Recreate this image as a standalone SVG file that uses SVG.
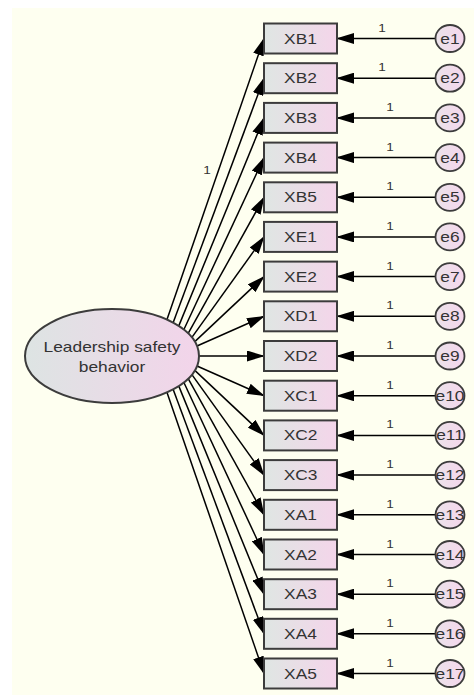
<svg xmlns="http://www.w3.org/2000/svg" width="474" height="695" viewBox="0 0 474 695">
  <defs>
    <linearGradient id="boxFill" x1="0" y1="0" x2="1" y2="0">
      <stop offset="0" stop-color="#dfe6e3"/>
      <stop offset="1" stop-color="#f4d5ea"/>
    </linearGradient>
    <linearGradient id="latentFill" x1="0" y1="0" x2="1" y2="0">
      <stop offset="0" stop-color="#dde4e3"/>
      <stop offset="1" stop-color="#f3d4ea"/>
    </linearGradient>
    <linearGradient id="errFill" x1="0" y1="0" x2="1" y2="0">
      <stop offset="0" stop-color="#ebe3ea"/>
      <stop offset="1" stop-color="#f5d6ec"/>
    </linearGradient>
    <marker id="head" markerUnits="userSpaceOnUse" markerWidth="18" markerHeight="11" refX="17" refY="5.5" orient="auto">
      <path d="M0,0 L18,5.5 L0,11 z" fill="#000"/>
    </marker>
  </defs>
  <style>
    .obs rect { fill: url(#boxFill); stroke: #3c3c3c; stroke-width: 2; }
    .err ellipse { fill: url(#errFill); stroke: #3c3c3c; stroke-width: 1.8; }
    .lbl { font-family: "Liberation Sans", Arial, sans-serif; font-size: 14px; fill: #333; text-anchor: middle; }
    .w { font-family: "Liberation Sans", Arial, sans-serif; font-size: 11px; fill: #333; text-anchor: middle; }
    .path { stroke: #000; stroke-width: 1.5; fill: none; marker-end: url(#head); }
  </style>

  <!-- canvas -->
  <rect x="0" y="0" width="474" height="695" fill="#ffffff"/>
  <rect x="12" y="8" width="462" height="687" fill="#fefff0"/>

  <!-- connectors: factor loadings and error paths -->
  <g id="connectors">
    <line class="path" x1="167.0" y1="319.6" x2="264" y2="38.5"/>
    <line class="path" x1="173.2" y1="322.6" x2="264" y2="78.2"/>
    <line class="path" x1="178.8" y1="325.9" x2="264" y2="117.9"/>
    <line class="path" x1="183.9" y1="329.5" x2="264" y2="157.6"/>
    <line class="path" x1="188.2" y1="333.4" x2="264" y2="197.3"/>
    <line class="path" x1="191.9" y1="337.4" x2="264" y2="236.9"/>
    <line class="path" x1="194.8" y1="341.6" x2="264" y2="276.6"/>
    <line class="path" x1="197.0" y1="346.0" x2="264" y2="316.3"/>
    <line class="path" x1="199.0" y1="356.0" x2="264" y2="356.0"/>
    <line class="path" x1="197.0" y1="366.0" x2="264" y2="395.7"/>
    <line class="path" x1="194.8" y1="370.4" x2="264" y2="435.4"/>
    <line class="path" x1="191.9" y1="374.6" x2="264" y2="475.1"/>
    <line class="path" x1="188.2" y1="378.6" x2="264" y2="514.8"/>
    <line class="path" x1="183.9" y1="382.5" x2="264" y2="554.5"/>
    <line class="path" x1="178.8" y1="386.1" x2="264" y2="594.2"/>
    <line class="path" x1="173.2" y1="389.4" x2="264" y2="633.8"/>
    <line class="path" x1="167.0" y1="392.4" x2="264" y2="673.5"/>

    <line class="path" x1="435.5" y1="38.5" x2="337" y2="38.5"/>
    <line class="path" x1="435.5" y1="78.2" x2="337" y2="78.2"/>
    <line class="path" x1="435.5" y1="117.9" x2="337" y2="117.9"/>
    <line class="path" x1="435.5" y1="157.6" x2="337" y2="157.6"/>
    <line class="path" x1="435.5" y1="197.3" x2="337" y2="197.3"/>
    <line class="path" x1="435.5" y1="236.9" x2="337" y2="236.9"/>
    <line class="path" x1="435.5" y1="276.6" x2="337" y2="276.6"/>
    <line class="path" x1="435.5" y1="316.3" x2="337" y2="316.3"/>
    <line class="path" x1="435.5" y1="356.0" x2="337" y2="356.0"/>
    <line class="path" x1="435.5" y1="395.7" x2="337" y2="395.7"/>
    <line class="path" x1="435.5" y1="435.4" x2="337" y2="435.4"/>
    <line class="path" x1="435.5" y1="475.1" x2="337" y2="475.1"/>
    <line class="path" x1="435.5" y1="514.8" x2="337" y2="514.8"/>
    <line class="path" x1="435.5" y1="554.5" x2="337" y2="554.5"/>
    <line class="path" x1="435.5" y1="594.2" x2="337" y2="594.2"/>
    <line class="path" x1="435.5" y1="633.8" x2="337" y2="633.8"/>
    <line class="path" x1="435.5" y1="673.5" x2="337" y2="673.5"/>

    <!-- fixed weights -->
    <text class="w" transform="matrix(1.24 0 0 1 207 174)">1</text>
    <text class="w" transform="matrix(1.24 0 0 1 382 31.5)">1</text>
    <text class="w" transform="matrix(1.24 0 0 1 382 71.2)">1</text>
    <text class="w" transform="matrix(1.24 0 0 1 390 110.9)">1</text>
    <text class="w" transform="matrix(1.24 0 0 1 390 150.6)">1</text>
    <text class="w" transform="matrix(1.24 0 0 1 390 190.3)">1</text>
    <text class="w" transform="matrix(1.24 0 0 1 390 229.9)">1</text>
    <text class="w" transform="matrix(1.24 0 0 1 390 269.6)">1</text>
    <text class="w" transform="matrix(1.24 0 0 1 390 309.3)">1</text>
    <text class="w" transform="matrix(1.24 0 0 1 390 349.0)">1</text>
    <text class="w" transform="matrix(1.24 0 0 1 390 388.7)">1</text>
    <text class="w" transform="matrix(1.24 0 0 1 390 428.4)">1</text>
    <text class="w" transform="matrix(1.24 0 0 1 390 468.1)">1</text>
    <text class="w" transform="matrix(1.24 0 0 1 390 507.8)">1</text>
    <text class="w" transform="matrix(1.24 0 0 1 390 547.5)">1</text>
    <text class="w" transform="matrix(1.24 0 0 1 390 587.2)">1</text>
    <text class="w" transform="matrix(1.24 0 0 1 390 626.8)">1</text>
    <text class="w" transform="matrix(1.24 0 0 1 390 666.5)">1</text>
  </g>

  <!-- latent factor -->
  <g id="leadership">
    <ellipse cx="112" cy="356" rx="87" ry="47" fill="url(#latentFill)" stroke="#3c3c3c" stroke-width="2"/>
    <text class="lbl" transform="matrix(1.24 0 0 1 112 352)">Leadership safety</text>
    <text class="lbl" transform="matrix(1.24 0 0 1 112 372)">behavior</text>
  </g>

  <!-- observed indicators -->
  <g id="XB1" class="obs"><rect x="264" y="23.5" width="73" height="30"/><text class="lbl" transform="matrix(1.24 0 0 1 300.5 43.5)">XB1</text></g>
  <g id="XB2" class="obs"><rect x="264" y="63.2" width="73" height="30"/><text class="lbl" transform="matrix(1.24 0 0 1 300.5 83.2)">XB2</text></g>
  <g id="XB3" class="obs"><rect x="264" y="102.9" width="73" height="30"/><text class="lbl" transform="matrix(1.24 0 0 1 300.5 122.9)">XB3</text></g>
  <g id="XB4" class="obs"><rect x="264" y="142.6" width="73" height="30"/><text class="lbl" transform="matrix(1.24 0 0 1 300.5 162.6)">XB4</text></g>
  <g id="XB5" class="obs"><rect x="264" y="182.3" width="73" height="30"/><text class="lbl" transform="matrix(1.24 0 0 1 300.5 202.3)">XB5</text></g>
  <g id="XE1" class="obs"><rect x="264" y="221.9" width="73" height="30"/><text class="lbl" transform="matrix(1.24 0 0 1 300.5 241.9)">XE1</text></g>
  <g id="XE2" class="obs"><rect x="264" y="261.6" width="73" height="30"/><text class="lbl" transform="matrix(1.24 0 0 1 300.5 281.6)">XE2</text></g>
  <g id="XD1" class="obs"><rect x="264" y="301.3" width="73" height="30"/><text class="lbl" transform="matrix(1.24 0 0 1 300.5 321.3)">XD1</text></g>
  <g id="XD2" class="obs"><rect x="264" y="341.0" width="73" height="30"/><text class="lbl" transform="matrix(1.24 0 0 1 300.5 361.0)">XD2</text></g>
  <g id="XC1" class="obs"><rect x="264" y="380.7" width="73" height="30"/><text class="lbl" transform="matrix(1.24 0 0 1 300.5 400.7)">XC1</text></g>
  <g id="XC2" class="obs"><rect x="264" y="420.4" width="73" height="30"/><text class="lbl" transform="matrix(1.24 0 0 1 300.5 440.4)">XC2</text></g>
  <g id="XC3" class="obs"><rect x="264" y="460.1" width="73" height="30"/><text class="lbl" transform="matrix(1.24 0 0 1 300.5 480.1)">XC3</text></g>
  <g id="XA1" class="obs"><rect x="264" y="499.8" width="73" height="30"/><text class="lbl" transform="matrix(1.24 0 0 1 300.5 519.8)">XA1</text></g>
  <g id="XA2" class="obs"><rect x="264" y="539.5" width="73" height="30"/><text class="lbl" transform="matrix(1.24 0 0 1 300.5 559.5)">XA2</text></g>
  <g id="XA3" class="obs"><rect x="264" y="579.2" width="73" height="30"/><text class="lbl" transform="matrix(1.24 0 0 1 300.5 599.2)">XA3</text></g>
  <g id="XA4" class="obs"><rect x="264" y="618.8" width="73" height="30"/><text class="lbl" transform="matrix(1.24 0 0 1 300.5 638.8)">XA4</text></g>
  <g id="XA5" class="obs"><rect x="264" y="658.5" width="73" height="30"/><text class="lbl" transform="matrix(1.24 0 0 1 300.5 678.5)">XA5</text></g>

  <!-- error terms -->
  <g id="e1" class="err"><ellipse cx="450" cy="38.5" rx="14.5" ry="13.5"/><text class="lbl" transform="matrix(1.24 0 0 1 450 43.5)">e1</text></g>
  <g id="e2" class="err"><ellipse cx="450" cy="78.2" rx="14.5" ry="13.5"/><text class="lbl" transform="matrix(1.24 0 0 1 450 83.2)">e2</text></g>
  <g id="e3" class="err"><ellipse cx="450" cy="117.9" rx="14.5" ry="13.5"/><text class="lbl" transform="matrix(1.24 0 0 1 450 122.9)">e3</text></g>
  <g id="e4" class="err"><ellipse cx="450" cy="157.6" rx="14.5" ry="13.5"/><text class="lbl" transform="matrix(1.24 0 0 1 450 162.6)">e4</text></g>
  <g id="e5" class="err"><ellipse cx="450" cy="197.3" rx="14.5" ry="13.5"/><text class="lbl" transform="matrix(1.24 0 0 1 450 202.3)">e5</text></g>
  <g id="e6" class="err"><ellipse cx="450" cy="236.9" rx="14.5" ry="13.5"/><text class="lbl" transform="matrix(1.24 0 0 1 450 241.9)">e6</text></g>
  <g id="e7" class="err"><ellipse cx="450" cy="276.6" rx="14.5" ry="13.5"/><text class="lbl" transform="matrix(1.24 0 0 1 450 281.6)">e7</text></g>
  <g id="e8" class="err"><ellipse cx="450" cy="316.3" rx="14.5" ry="13.5"/><text class="lbl" transform="matrix(1.24 0 0 1 450 321.3)">e8</text></g>
  <g id="e9" class="err"><ellipse cx="450" cy="356.0" rx="14.5" ry="13.5"/><text class="lbl" transform="matrix(1.24 0 0 1 450 361.0)">e9</text></g>
  <g id="e10" class="err"><ellipse cx="450" cy="395.7" rx="14.5" ry="13.5"/><text class="lbl" transform="matrix(1.24 0 0 1 450 400.7)">e10</text></g>
  <g id="e11" class="err"><ellipse cx="450" cy="435.4" rx="14.5" ry="13.5"/><text class="lbl" transform="matrix(1.24 0 0 1 450 440.4)">e11</text></g>
  <g id="e12" class="err"><ellipse cx="450" cy="475.1" rx="14.5" ry="13.5"/><text class="lbl" transform="matrix(1.24 0 0 1 450 480.1)">e12</text></g>
  <g id="e13" class="err"><ellipse cx="450" cy="514.8" rx="14.5" ry="13.5"/><text class="lbl" transform="matrix(1.24 0 0 1 450 519.8)">e13</text></g>
  <g id="e14" class="err"><ellipse cx="450" cy="554.5" rx="14.5" ry="13.5"/><text class="lbl" transform="matrix(1.24 0 0 1 450 559.5)">e14</text></g>
  <g id="e15" class="err"><ellipse cx="450" cy="594.2" rx="14.5" ry="13.5"/><text class="lbl" transform="matrix(1.24 0 0 1 450 599.2)">e15</text></g>
  <g id="e16" class="err"><ellipse cx="450" cy="633.8" rx="14.5" ry="13.5"/><text class="lbl" transform="matrix(1.24 0 0 1 450 638.8)">e16</text></g>
  <g id="e17" class="err"><ellipse cx="450" cy="673.5" rx="14.5" ry="13.5"/><text class="lbl" transform="matrix(1.24 0 0 1 450 678.5)">e17</text></g>
</svg>
